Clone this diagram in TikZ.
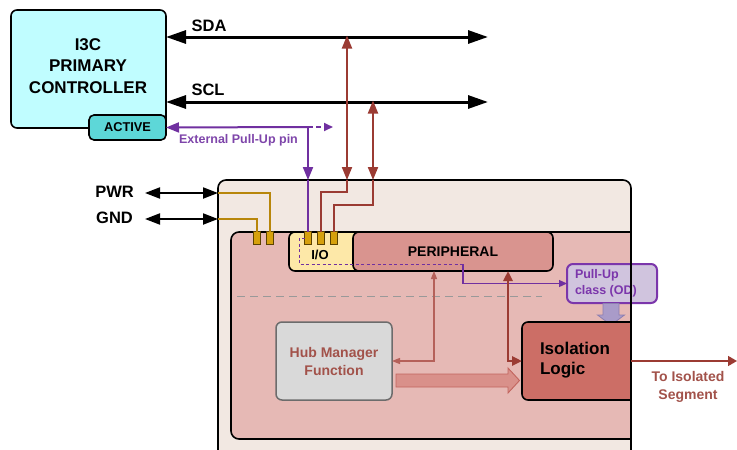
\documentclass[tikz,border=0pt]{standalone}
\usepackage{fontspec}
\setmainfont{Liberation Sans}
\usetikzlibrary{arrows.meta,calc}

\definecolor{ctrlfill}{HTML}{C0FDFF}
\definecolor{activefill}{HTML}{5DD7D8}
\definecolor{housing}{HTML}{F2E8E2}
\definecolor{corefill}{HTML}{E6B9B5}
\definecolor{perifill}{HTML}{D9948F}
\definecolor{iofill}{HTML}{FDE8A8}
\definecolor{hubfill}{HTML}{D9D9D9}
\definecolor{isofill}{HTML}{CC6E66}
\definecolor{pullfill}{HTML}{D0C4DE}
\definecolor{pullborder}{HTML}{7B36AB}
\definecolor{purp}{HTML}{7030A0}
\definecolor{redline}{HTML}{9B3B33}
\definecolor{redthin}{HTML}{B5615A}
\definecolor{redtext}{HTML}{A2524A}
\definecolor{goldline}{HTML}{B8860B}
\definecolor{pinfill}{HTML}{D6A10C}
\definecolor{pinedge}{HTML}{5C4300}
\definecolor{lavarrow}{HTML}{A99BC9}
\definecolor{lavedge}{HTML}{8C7EB0}
\definecolor{blockfill}{HTML}{D9908A}
\definecolor{blockedge}{HTML}{C2655E}

\tikzset{
  redtip/.tip={Triangle[length=13pt,width=10pt]},
  purptip/.tip={Triangle[length=13pt,width=10pt]},
  fnt/.style={font=\fontsize{#1}{#1}\selectfont\bfseries},
  blockbox/.style={draw=black, line width=1.6pt, rounded corners=6pt, inner sep=0pt, outer sep=0pt},
  pinbox/.style={draw=pinedge, fill=pinfill, line width=0.8pt, minimum width=7pt, minimum height=13pt, inner sep=0pt, outer sep=0pt},
  busline/.style={line width=3pt, black, {Triangle[length=20pt,width=13pt]}-{Triangle[length=20pt,width=13pt]}},
  pwrline/.style={line width=2pt, black, {Triangle[length=15pt,width=11pt]}-{Triangle[length=15pt,width=11pt]}},
  redwire/.style={line width=2pt, redline},
  purpwire/.style={line width=2pt, purp},
  goldwire/.style={line width=2pt, goldline},
  plain/.style={inner sep=0pt, outer sep=0pt},
}

\begin{document}
\begin{tikzpicture}[x=1pt, y=-1pt]
\useasboundingbox (0,0) rectangle (737,450);

% ---- nodes that only carry geometry --------------------------------
\node[plain, minimum width=413pt, minimum height=280pt] (hub) at (424.5,320) {};
\node[plain, minimum width=400pt, minimum height=207pt] (core) at (431,335.5) {};
\node[plain, minimum width=109pt, minimum height=78pt] (isobox) at (576.5,361) {};

% ---- hub housing ---------------------------------------------------
\path[fill=housing, draw=black, line width=1.6pt, rounded corners=8pt]
  (hub.south west) -- (hub.north west) -- (hub.north east) -- (hub.south east);

% ---- inner core area -------------------------------------------------
\path[fill=corefill, draw=black, line width=1.6pt, rounded corners=8pt]
  (core.north east) -- (core.north west) -- (core.south west) -- (core.south east);

% separator
\draw[gray!80, line width=1pt, dash pattern=on 8pt off 5pt] (237,296) -- (542,296);

% ---- I3C primary controller -----------------------------------------
\node[blockbox, fill=ctrlfill, minimum width=155pt, minimum height=118pt] (ctrl) at (88.5,69) {};
\node[plain, align=center, font=\fontsize{17}{21.5}\selectfont\bfseries] (ctrltext) at (88,66) {I3C\\PRIMARY\\CONTROLLER};
\node[draw=black, line width=1.6pt, rounded corners=5pt, fill=activefill, minimum width=77pt, minimum height=25pt, inner sep=0pt, outer sep=0pt, fnt=12.8] (active) at (127.5,127.5) {ACTIVE};

% ---- bus lines -------------------------------------------------------
\coordinate (sdaR) at (488,37);
\coordinate (sclR) at (488,102);
\draw[busline] (ctrl.east |- sdaR) -- (sdaR);
\draw[busline] (ctrl.east |- sclR) -- (sclR);
\node[plain, fnt=16.5] (sdalbl) at (209,25.5) {SDA};
\node[plain, fnt=16.5] (scllbl) at (208,90) {SCL};

% ---- power -----------------------------------------------------------
\coordinate (pwrL) at (145,193);
\coordinate (pwrR) at (218,193);
\coordinate (gndL) at (145,219);
\coordinate (gndR) at (218,219);
\draw[pwrline] (pwrL) -- (pwrR);
\draw[pwrline] (gndL) -- (gndR);
\node[plain, fnt=16.5] (pwrlbl) at (114.5,192) {PWR};
\node[plain, fnt=16.5] (gndlbl) at (114.5,218) {GND};

% ---- I/O and peripheral blocks --------------------------------------
\node[blockbox, fill=iofill, minimum width=76pt, minimum height=39pt] (io) at (327,251.5) {};
\node[plain, fnt=13] (iolbl) at (320,255) {I/O};
\node[blockbox, fill=perifill, minimum width=200pt, minimum height=39pt, fnt=14] (peri) at (453,251.5) {PERIPHERAL};

% ---- pins -------------------------------------------------------------
\node[pinbox] (pinA) at (257,238) {};
\node[pinbox] (pinB) at (270,238) {};

\draw[goldwire] (gndR) -| (pinA.north);
\draw[goldwire] (pwrR) -| (pinB.north);

% SDA / SCL taps
\coordinate (sdaTap) at (347,37);
\coordinate (sclTap) at (373,102);
\coordinate (sdaIn) at (347,180);
\coordinate (sclIn) at (373,180);
\draw[redwire, {redtip}-{redtip}] ([yshift=1.5pt]sdaTap) -- (sdaIn);
\draw[redwire, {redtip}-{redtip}] ([yshift=1.5pt]sclTap) -- (sclIn);

% external pull-up pin
\coordinate (epu) at (308,127);
\coordinate (epuIn) at (308,180);
\coordinate (epuEnd) at (333,127);
\draw[purpwire, -{purptip}] (epu) -- (active.east);
\draw[purpwire, dash pattern=on 5pt off 3pt, -{Triangle[length=9pt,width=8pt]}] (epu) -- (epuEnd);
\draw[purpwire, -{purptip}] ([yshift=-1pt]epu) -- (epuIn);
\node[plain, fnt=12.5, text=purp!90!white] (epulbl) at (238.5,140.5) {External Pull-Up pin};

\node[pinbox] (pinC) at (308,238) {};
\node[pinbox] (pinD) at (321,238) {};
\node[pinbox] (pinE) at (334,238) {};
\draw[purpwire] (epuIn) -- (pinC.north);
\draw[redwire] (sdaIn) -- (347,192) -| (pinD.north);
\draw[redwire] (sclIn) -- (373,205) -| (pinE.north);

% ---- pull-up class ----------------------------------------------------
\node[draw=pullborder, fill=pullfill, line width=2pt, rounded corners=6pt, minimum width=90pt, minimum height=39pt, inner sep=0pt, outer sep=0pt] (pull) at (612,283.5) {};
\node[plain, anchor=west, align=left, text=pullborder, font=\fontsize{12.5}{15.5}\selectfont\bfseries] (pulllbl) at (575,283.5) {Pull-Up\\class (OD)};

% signal path from I/O to the pull-up class
\draw[purp, line width=1pt, dash pattern=on 3pt off 2.5pt] (pinC.west |- 0,238) -- (299,238) -- (299,264) -- (463,264);
\draw[purp, line width=1.2pt, -{Triangle[length=8pt,width=7pt]}] (463,264) -- (463,283.5) -- (pull.west);

% down arrow from pull-up class into isolation logic
\path[fill=lavarrow, draw=lavedge, line width=0.8pt]
  (603,303.5) -- (619,303.5) -- (619,315) -- (624.5,315) -- (611,325) -- (597.5,315) -- (603,315) -- cycle;

% ---- isolation logic ---------------------------------------------------
\path[fill=isofill, draw=black, line width=1.6pt, rounded corners=6pt]
  (isobox.north east) -- (isobox.north west) -- (isobox.south west) -- (isobox.south east);
\node[plain, anchor=west, align=left, font=\fontsize{17}{20}\selectfont\bfseries] (isolbl) at (540,360.5) {Isolation\\Logic};

% ---- hub manager function -----------------------------------------------
\node[draw=gray!85!black, fill=hubfill, line width=1.5pt, rounded corners=6pt, minimum width=116pt, minimum height=78pt, inner sep=0pt, outer sep=0pt] (hubmgr) at (334,361) {};
\node[plain, align=center, text=redtext, font=\fontsize{14}{18}\selectfont\bfseries] (hubmgrlbl) at (334,361) {Hub Manager\\Function};

% control links
\draw[redthin, line width=1.2pt, {Triangle[length=8pt,width=6pt]}-{Triangle[length=8pt,width=6pt]}]
  (peri.south -| 434,0) -- (434,361) -- (hubmgr.east);
\draw[redline, line width=2.5pt, {Triangle[length=10pt,width=9pt]}-{Triangle[length=10pt,width=9pt]}]
  (peri.south -| 508,0) -- (508,361) -- (isobox.west);

% data flow from hub manager to isolation logic
\path[fill=blockfill, draw=blockedge, line width=0.9pt]
  (396,374) -- (508,374) -- (508,368) -- (519.5,380.5) -- (508,393) -- (508,387) -- (396,387) -- cycle;

% right edge of the housing, drawn over the inner blocks
\draw[black, line width=1.6pt] (core.north east) -- (hub.south east);

% ---- isolated segment output ----------------------------------------------
\coordinate (segEnd) at (737,361);
\draw[redline, line width=1.5pt, -{Triangle[length=9pt,width=10pt]}] (isobox.east) -- (segEnd);
\node[plain, align=center, text=redtext, font=\fontsize{14}{18}\selectfont\bfseries] (seglbl) at (688,387) {To Isolated\\Segment};

\end{tikzpicture}
\end{document}
